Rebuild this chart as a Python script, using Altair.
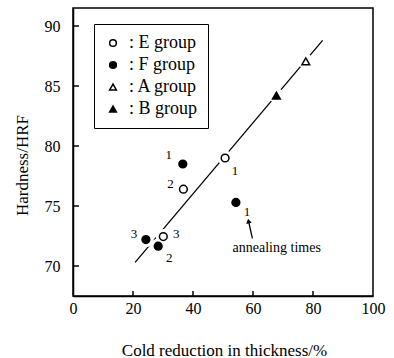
import altair as alt
import pandas as pd

# ---- data ----
groups = ["E group", "E group", "E group", "F group", "F group", "F group", "F group", "A group", "B group"]
reduction = [50.7, 36.8, 30.1, 36.6, 54.3, 24.3, 28.4, 77.6, 67.8]
hardness = [79.0, 76.4, 72.45, 78.5, 75.3, 72.2, 71.65, 87.06, 84.2]
annealing = ["1", "2", "3", "1", "1", "3", "2", "", ""]

fit_x = [20.7, 83.2]
fit_y = [70.3, 88.8]

x_ticks = [0, 20, 40, 60, 80, 100]
y_ticks = [70, 75, 80, 85, 90]
x_inner_ticks = [20, 40, 60, 80]
y_inner_ticks = [70, 75, 80, 85, 90]

group_order = ["E group", "F group", "A group", "B group"]
group_fill = ["white", "black", "white", "black"]
group_stroke = ["black", "black", "black", "black"]
group_shape = ["circle", "circle", "triangle-up", "triangle-up"]

note_text = ["annealing times"]
note_x = [67.9]
note_y = [71.5]
arrow_tail = [59.8, 72.3]
arrow_tip = [58.5, 73.75]

# per-point label offsets (pixels): style, kept apart from the data
label_offsets = [(10, 13), (-13, -5), (13, -3), (-14, -9), (11, 10), (-12, -6), (11, 12), (0, 0), (0, 0)]

FONT = "'Liberation Serif', 'Times New Roman', 'DejaVu Serif', serif"

df = pd.DataFrame({"group": groups, "x": reduction, "y": hardness, "lab": annealing})
df["i"] = range(len(df))
fit_df = pd.DataFrame({"x": fit_x, "y": fit_y})

xs = alt.Scale(domain=[0, 100], nice=False, zero=False)
ys = alt.Scale(domain=[67.5, 91.5], nice=False, zero=False)

xax = alt.Axis(values=x_ticks, ticks=False, grid=False, labelFont=FONT, labelFontSize=16,
               labelPadding=4, labelColor="black", domainColor="black", domainWidth=1.5,
               title="Cold reduction in thickness/%", titleFont=FONT, titleFontSize=17,
               titleFontWeight="normal", titleColor="black", titleX=151, titleY=54,
               titleBaseline="middle", labelFlush=False, labelOverlap=False)
yax = alt.Axis(values=y_ticks, ticks=False, grid=False, labelFont=FONT, labelFontSize=16,
               labelPadding=13, labelColor="black", domainColor="black", domainWidth=1.5,
               title="Hardness/HRF", titleFont=FONT, titleFontSize=17, titleFontWeight="normal",
               titleColor="black", titleX=-51, titleY=157, titleAngle=270,
               titleBaseline="middle", titleAlign="center", labelFlush=False)

fit_line = alt.Chart(fit_df).mark_line(color="black", strokeWidth=1.3).encode(
    x=alt.X("x:Q", scale=xs, axis=xax),
    y=alt.Y("y:Q", scale=ys, axis=yax),
)

halo = alt.Chart(df).mark_point(filled=True, shape="circle", size=230, color="white", opacity=1).encode(
    x=alt.X("x:Q", scale=xs), y=alt.Y("y:Q", scale=ys)
)

legend_cfg = dict(title=None, orient="none", legendX=21, legendY=16,
                  labelExpr="': ' + datum.label", labelFont=FONT, labelFontSize=18,
                  labelColor="black", symbolStrokeColor="black", symbolStrokeWidth=1.5,
                  symbolSize=45, rowPadding=4, padding=10, strokeColor="black",
                  fillColor="white", labelOffset=7)

points = alt.Chart(df).mark_point(size=60, strokeWidth=1.5, opacity=1).encode(
    x=alt.X("x:Q", scale=xs),
    y=alt.Y("y:Q", scale=ys),
    fill=alt.Fill("group:N", scale=alt.Scale(domain=group_order, range=group_fill),
                  legend=alt.Legend(**legend_cfg)),
    stroke=alt.Stroke("group:N", scale=alt.Scale(domain=group_order, range=group_stroke),
                      legend=alt.Legend(**legend_cfg)),
    shape=alt.Shape("group:N", scale=alt.Scale(domain=group_order, range=group_shape),
                    legend=alt.Legend(**legend_cfg)),
)

labels = []
for i, (dx, dy) in enumerate(label_offsets):
    if not annealing[i]:
        continue
    labels.append(
        alt.Chart(df).transform_filter(alt.datum.i == i).mark_text(
            font=FONT, fontSize=13, dx=dx, dy=dy, color="black"
        ).encode(x=alt.X("x:Q", scale=xs), y=alt.Y("y:Q", scale=ys), text="lab:N")
    )

note = alt.Chart(pd.DataFrame({"x": note_x, "y": note_y, "t": note_text})).mark_text(
    font=FONT, fontSize=14, color="black"
).encode(x=alt.X("x:Q", scale=xs), y=alt.Y("y:Q", scale=ys), text="t:N")

arrow_df = pd.DataFrame({"x": [arrow_tail[0]], "y": [arrow_tail[1]], "x2": [arrow_tip[0]], "y2": [arrow_tip[1]]})
arrow_shaft = alt.Chart(arrow_df).mark_rule(color="black", strokeWidth=1.3).encode(
    x=alt.X("x:Q", scale=xs), y=alt.Y("y:Q", scale=ys), x2="x2:Q", y2="y2:Q"
)
arrow_head = alt.Chart(arrow_df).mark_point(shape="triangle-up", filled=True, color="black",
                                            size=30, angle=348, opacity=1).encode(
    x=alt.X("x2:Q", scale=xs), y=alt.Y("y2:Q", scale=ys)
)

xtick_rules = alt.Chart(pd.DataFrame({"v": x_inner_ticks})).mark_rule(color="black", strokeWidth=1.5).encode(
    x=alt.X("v:Q", scale=xs), y=alt.value(288), y2=alt.value(283)
)
ytick_rules = alt.Chart(pd.DataFrame({"v": y_inner_ticks})).mark_rule(color="black", strokeWidth=1.5).encode(
    y=alt.Y("v:Q", scale=ys), x=alt.value(0), x2=alt.value(6)
)

chart = alt.layer(
    fit_line, halo, points, *labels, note, arrow_shaft, arrow_head, xtick_rules, ytick_rules
).properties(
    width=300, height=288,
    autosize=alt.AutoSizeParams(type="none"),
    padding={"left": 73, "top": 8, "right": 21, "bottom": 62},
    background="white",
).configure_view(stroke="black", strokeWidth=1.5)

chart.save("out.html", embed_options={"renderer": "svg", "actions": False})
